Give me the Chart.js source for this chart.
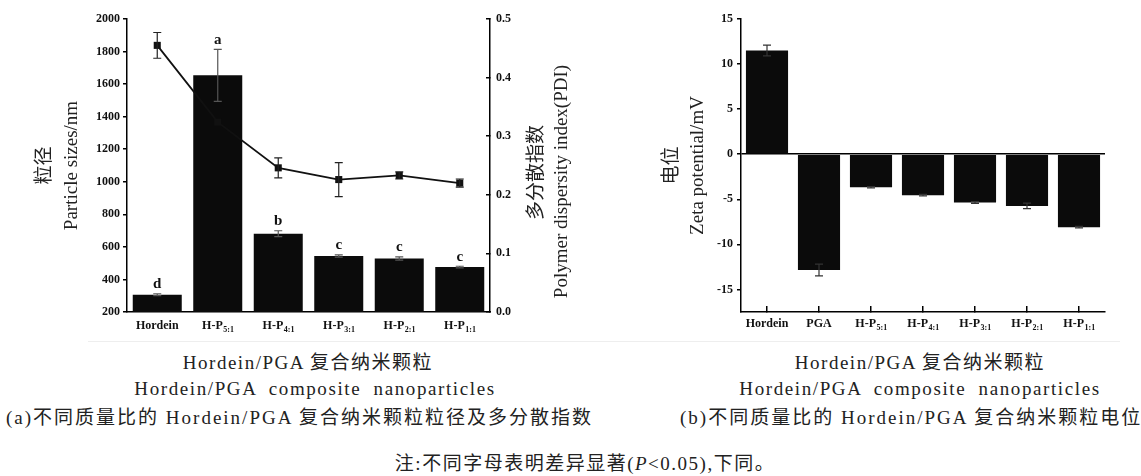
<!DOCTYPE html>
<html>
<head>
<meta charset="utf-8">
<script src="https://cdn.jsdelivr.net/npm/chart.js@4.4.0/dist/chart.umd.min.js"></script>
<style>
  body { margin: 0; background: #fff; width: 1141px; height: 476px; position: relative; overflow: hidden;
         font-family: "Liberation Serif", "Noto Sans CJK SC", serif; color: #222; }
  #chartA { position: absolute; left: 0; top: 0; }
  #chartB { position: absolute; left: 620px; top: 0; }
  .cap { position: absolute; white-space: nowrap; font-size: 19px; line-height: 22px; letter-spacing: 1.5px; }
  .mid { transform: translateX(-50%); }
  .wide { letter-spacing: 1.6px; word-spacing: 6px; }
  .rule { position: absolute; left: 88px; top: 341px; width: 1032px; height: 1px; background: #eee; }
</style>
</head>
<body>
<canvas id="chartA" width="600" height="340"></canvas>
<canvas id="chartB" width="521" height="340"></canvas>
<div class="rule"></div>
<div class="cap mid" style="left:308px;top:352px">Hordein/PGA 复合纳米颗粒</div>
<div class="cap mid wide" style="left:315px;top:378px">Hordein/PGA composite nanoparticles</div>
<div class="cap" style="left:6px;top:407px;letter-spacing:2px">(a)不同质量比的 Hordein/PGA 复合纳米颗粒粒径及多分散指数</div>
<div class="cap mid" style="left:920px;top:352px">Hordein/PGA 复合纳米颗粒</div>
<div class="cap mid wide" style="left:920px;top:378px">Hordein/PGA composite nanoparticles</div>
<div class="cap" style="left:680px;top:407px;letter-spacing:2px">(b)不同质量比的 Hordein/PGA 复合纳米颗粒电位</div>
<div class="cap mid" style="left:585px;top:453px">注:不同字母表明差异显著(<i>P</i>&lt;0.05),下同。</div>
<script>
// (a) particle size + PDI
const categoriesA = ['Hordein', 'H-P_5:1', 'H-P_4:1', 'H-P_3:1', 'H-P_2:1', 'H-P_1:1'];
const particleSize = [306, 1654, 681, 544, 529, 476];
const particleSizeErr = [6, 160, 18, 7, 10, 5];
const sizeLetters = ['d', 'a', 'b', 'c', 'c', 'c'];
const pdi = [0.455, 0.324, 0.246, 0.226, 0.233, 0.220];
const pdiErr = [0.022, 0, 0.017, 0.029, 0.006, 0.007];
const sizeMin = 200, sizeMax = 2000, sizeStep = 200;
const pdiMin = 0, pdiMax = 0.5, pdiStep = 0.1;

// (b) zeta potential
const categoriesB = ['Hordein', 'PGA', 'H-P_5:1', 'H-P_4:1', 'H-P_3:1', 'H-P_2:1', 'H-P_1:1'];
const zeta = [11.5, -12.85, -3.66, -4.54, -5.36, -5.73, -8.09];
const zetaErr = [0.6, 0.65, 0.08, 0.08, 0.1, 0.3, 0.08];
const zetaMin = -17.5, zetaMax = 15, zetaStep = 5;

const SERIF = '"Liberation Serif", "Noto Sans CJK SC", serif';
const tickFont = { family: SERIF, size: 12, weight: 'bold' };
const titleFont = (lh) => ({ family: SERIF, size: 19, lineHeight: lh });

// error bars from dataset.errors
const errorBars = {
  id: 'errorBars',
  afterDatasetsDraw(chart) {
    const ctx = chart.ctx;
    chart.data.datasets.forEach((ds, i) => {
      if (!ds.errors) return;
      const meta = chart.getDatasetMeta(i);
      const scale = chart.scales[meta.yAxisID];
      ctx.save();
      ctx.strokeStyle = ds.errorColor || '#333';
      ctx.lineWidth = 1.2;
      meta.data.forEach((el, j) => {
        const e = ds.errors[j];
        if (!e) return;
        const v = ds.data[j];
        const yTop = scale.getPixelForValue(v + e);
        const yBot = scale.getPixelForValue(v - e);
        ctx.beginPath();
        ctx.moveTo(el.x, yTop); ctx.lineTo(el.x, yBot);
        ctx.moveTo(el.x - 4, yTop); ctx.lineTo(el.x + 4, yTop);
        ctx.moveTo(el.x - 4, yBot); ctx.lineTo(el.x + 4, yBot);
        ctx.stroke();
      });
      ctx.restore();
    });
  }
};

// significance letters above the bars
const sigLetters = {
  id: 'sigLetters',
  afterDatasetsDraw(chart, args, opts) {
    if (!opts.letters) return;
    const ctx = chart.ctx;
    const ds = chart.data.datasets[0];
    const meta = chart.getDatasetMeta(0);
    const scale = chart.scales[meta.yAxisID];
    ctx.save();
    ctx.font = 'bold 15px ' + SERIF;
    ctx.fillStyle = '#111';
    ctx.textAlign = 'center';
    ctx.textBaseline = 'bottom';
    meta.data.forEach((el, j) => {
      const y = scale.getPixelForValue(ds.data[j] + (ds.errors[j] || 0));
      ctx.fillText(opts.letters[j], el.x, y - 2);
    });
    ctx.restore();
  }
};

// category labels with subscripts (H-P_5:1)
const subLabels = {
  id: 'subLabels',
  afterDraw(chart, args, opts) {
    const ctx = chart.ctx;
    const xs = chart.scales.x;
    const baseY = chart.chartArea.bottom + (opts.offset || 17);
    ctx.save();
    ctx.fillStyle = '#111';
    ctx.textAlign = 'left';
    ctx.textBaseline = 'alphabetic';
    chart.data.labels.forEach((lab, i) => {
      const [main, sub] = lab.split('_');
      const x = xs.getPixelForValue(i);
      ctx.font = 'bold 12px ' + SERIF;
      const w1 = ctx.measureText(main).width;
      ctx.font = 'bold 8px ' + SERIF;
      const w2 = sub ? ctx.measureText(sub).width : 0;
      const x0 = x - (w1 + w2) / 2;
      ctx.font = 'bold 12px ' + SERIF;
      ctx.fillText(main, x0, baseY);
      if (sub) {
        ctx.font = 'bold 8px ' + SERIF;
        ctx.fillText(sub, x0 + w1 + 0.5, baseY + 3);
      }
    });
    ctx.restore();
  }
};

// right axis title, read bottom-to-top like the left one
const rightTitle = {
  id: 'rightTitle',
  afterDraw(chart, args, opts) {
    const s = chart.scales.y1;
    const ctx = chart.ctx;
    const cy = (s.top + s.bottom) / 2;
    opts.lines.forEach(l => {
      ctx.save();
      ctx.translate(s.right - l.offset, cy + l.dy);
      ctx.rotate(-Math.PI / 2);
      ctx.font = '19px ' + SERIF;
      ctx.fillStyle = '#222';
      ctx.textAlign = 'center';
      ctx.textBaseline = 'middle';
      ctx.fillText(l.text, 0, 0);
      ctx.restore();
    });
  }
};

new Chart(document.getElementById('chartA'), {
  data: {
    labels: categoriesA,
    datasets: [
      {
        type: 'bar', data: particleSize, errors: particleSizeErr, errorColor: '#555',
        backgroundColor: '#0b0b0b', borderWidth: 0,
        barPercentage: 0.81, categoryPercentage: 1, yAxisID: 'y', order: 1
      },
      {
        type: 'line', data: pdi, errors: pdiErr, errorColor: '#222',
        borderColor: '#111', borderWidth: 1.8, backgroundColor: '#111',
        pointStyle: 'rect', pointRadius: 5, pointBorderWidth: 0,
        yAxisID: 'y1', order: 0
      }
    ]
  },
  options: {
    responsive: false,
    animation: false,
    layout: { padding: { top: 19 } },
    plugins: {
      legend: { display: false }, tooltip: { enabled: false },
      sigLetters: { letters: sizeLetters }, subLabels: { offset: 17 },
      rightTitle: { lines: [
        { text: '多分散指数', offset: 63, dy: 7 },
        { text: 'Polymer dispersity index(PDI)', offset: 38, dy: 16 }
      ] }
    },
    scales: {
      x: {
        grid: { display: false },
        border: { color: '#000', width: 1.5 },
        ticks: { display: false },
        afterFit(s) { s.height = 28; }
      },
      y: {
        position: 'left', min: sizeMin, max: sizeMax,
        ticks: { stepSize: sizeStep, font: tickFont, color: '#111', padding: 3, callback: v => String(v) },
        grid: { drawOnChartArea: false, tickLength: 4, color: '#000', lineWidth: 1.5 },
        border: { color: '#000', width: 1.5 },
        title: { display: true, text: ['粒径', 'Particle sizes/nm'], font: titleFont(1.42), color: '#222', padding: { top: 31.5, bottom: 0 } },
        afterFit(s) { s.width = 127; }
      },
      y1: {
        position: 'right', min: pdiMin, max: pdiMax,
        ticks: { stepSize: pdiStep, font: tickFont, color: '#111', padding: 10, callback: v => v.toFixed(1) },
        grid: { drawOnChartArea: false, tickLength: -4, color: '#000', lineWidth: 1.5 },
        border: { color: '#000', width: 1.5 },
        afterFit(s) { s.width = 110; }
      }
    }
  },
  plugins: [errorBars, sigLetters, subLabels, rightTitle]
});

new Chart(document.getElementById('chartB'), {
  type: 'bar',
  data: {
    labels: categoriesB,
    datasets: [{
      data: zeta, errors: zetaErr, errorColor: '#333',
      backgroundColor: '#0b0b0b', borderWidth: 0,
      barPercentage: 0.81, categoryPercentage: 1
    }]
  },
  options: {
    responsive: false,
    animation: false,
    layout: { padding: { top: 19, right: 36 } },
    plugins: { legend: { display: false }, tooltip: { enabled: false }, subLabels: { offset: 15 } },
    scales: {
      x: {
        grid: { drawOnChartArea: false, offset: false, tickLength: -6, color: '#000', lineWidth: 1.5 },
        border: { color: '#000', width: 1.5 },
        ticks: { display: false },
        afterFit(s) { s.height = 28; }
      },
      y: {
        min: zetaMin, max: zetaMax,
        ticks: { stepSize: zetaStep, font: tickFont, color: '#111', padding: 4 },
        afterBuildTicks(s) { s.ticks = s.ticks.filter(t => t.value % zetaStep === 0); },
        grid: {
          color: c => (c.tick && c.tick.value === 0 ? '#000' : 'rgba(0,0,0,0)'),
          lineWidth: 1.5, tickColor: '#000', tickWidth: 1.5, tickLength: 4
        },
        border: { color: '#000', width: 1.5 },
        title: { display: true, text: ['电位', 'Zeta potential/mV'], font: titleFont(1.37), color: '#222', padding: { top: 39, bottom: 0 } },
        afterFit(s) { s.width = 121; }
      }
    }
  },
  plugins: [errorBars, subLabels]
});
</script>
</body>
</html>
